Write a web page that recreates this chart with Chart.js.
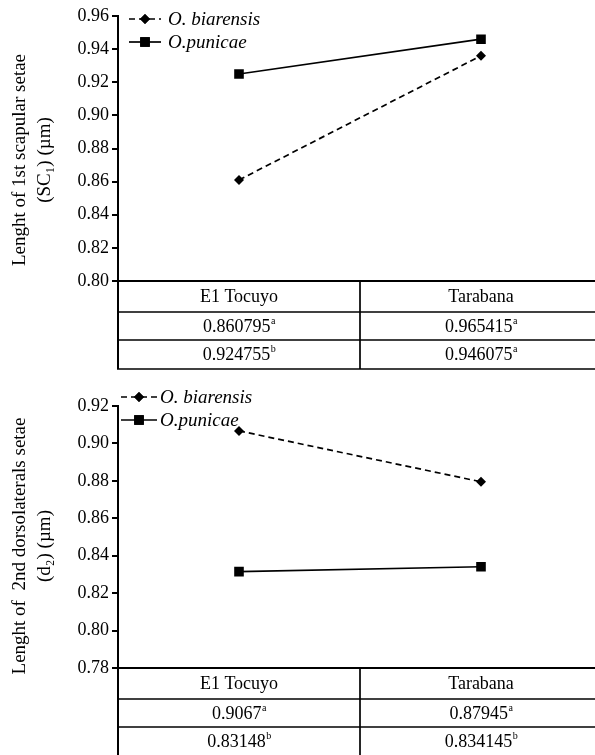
<!DOCTYPE html>
<html><head><meta charset="utf-8">
<script src="https://cdn.jsdelivr.net/npm/chart.js@4/dist/chart.umd.min.js"></script>
<style>
html,body{margin:0;padding:0;background:#fff;overflow:hidden;width:595px;height:755px;}
.wrap{position:absolute;left:0;width:610px;}
canvas{display:block;}
</style></head><body>
<div class="wrap" style="top:0;height:378px"><canvas id="c1" width="610" height="378"></canvas></div>
<div class="wrap" style="top:378px;height:377px"><canvas id="c2" width="610" height="377"></canvas></div>
<script>
// ---------- data ----------
const categories = ['E1 Tocuyo', 'Tarabana'];
const seriesNames = ['O. biarensis', 'O.punicae'];

// Chart 1: 1st scapular setae (SC1)
const sc1Title = ['Lenght of 1st scapular setae', '(SC\u2081) (\u00b5m)'];
const sc1Ticks = [0.80, 0.82, 0.84, 0.86, 0.88, 0.90, 0.92, 0.94, 0.96];
const sc1Biarensis = [0.861, 0.936];
const sc1Punicae = [0.925, 0.946];
const sc1TableBiarensis = ['0.860795', '0.965415'];
const sc1SupBiarensis = ['a', 'a'];
const sc1TablePunicae = ['0.924755', '0.946075'];
const sc1SupPunicae = ['b', 'a'];

// Chart 2: 2nd dorsolaterals setae (d2)
const d2Title = ['Lenght of  2nd dorsolaterals setae', '(d\u2082) (\u00b5m)'];
const d2Ticks = [0.78, 0.80, 0.82, 0.84, 0.86, 0.88, 0.90, 0.92];
const d2Biarensis = [0.9067, 0.8795];
const d2Punicae = [0.8315, 0.8341];
const d2TableBiarensis = ['0.9067', '0.87945'];
const d2SupBiarensis = ['a', 'a'];
const d2TablePunicae = ['0.83148', '0.834145'];
const d2SupPunicae = ['b', 'b'];

// ---------- rendering ----------
const FONT = "'Liberation Serif', 'Times New Roman', serif";

const tableLegendPlugin = {
  id: 'tableLegend',
  afterDraw(chart) {
    const o = chart.options.plugins.tableLegend;
    const ctx = chart.ctx;
    const ca = chart.chartArea;
    const xs = chart.scales.x;
    const W = chart.width;
    ctx.save();
    ctx.strokeStyle = '#000';
    ctx.fillStyle = '#000';
    // table
    const rows = o.rowHeights;
    let ys = [ca.bottom];
    rows.forEach(h => ys.push(ys[ys.length - 1] + h));
    ys.forEach((y, i) => {
      ctx.lineWidth = i === 0 ? 2 : 1.7;
      ctx.beginPath(); ctx.moveTo(ca.left - 1, y); ctx.lineTo(W, y); ctx.stroke();
    });
    const mid = (xs.getPixelForValue(0) + xs.getPixelForValue(1)) / 2;
    ctx.lineWidth = 2;
    ctx.beginPath(); ctx.moveTo(ca.left, ca.bottom); ctx.lineTo(ca.left, ys[ys.length - 1]); ctx.stroke();
    ctx.lineWidth = 1.7;
    ctx.beginPath(); ctx.moveTo(mid, ca.bottom); ctx.lineTo(mid, ys[ys.length - 1]); ctx.stroke();
    ctx.textBaseline = 'middle';
    const cells = [o.header.map(t => [t, '']), o.row1, o.row2];
    cells.forEach((row, r) => {
      const cy = (ys[r] + ys[r + 1]) / 2 + 1;
      row.forEach((cell, c) => {
        const cx = xs.getPixelForValue(c);
        ctx.font = '18px ' + FONT;
        const w1 = ctx.measureText(cell[0]).width;
        ctx.font = '10px ' + FONT;
        const w2 = cell[1] ? ctx.measureText(cell[1]).width : 0;
        const sx = cx - (w1 + w2) / 2;
        ctx.font = '18px ' + FONT;
        ctx.textAlign = 'left';
        ctx.fillText(cell[0], sx, cy);
        if (cell[1]) {
          ctx.font = '10px ' + FONT;
          ctx.fillText(cell[1], sx + w1 + 0.5, cy - 6);
        }
      });
    });
    // legend
    chart.data.datasets.forEach((ds, i) => {
      const y = o.legendY[i];
      ctx.save();
      ctx.lineWidth = 1.7;
      ctx.setLineDash(ds.borderDash || []);
      ctx.beginPath(); ctx.moveTo(o.legendX0, y); ctx.lineTo(o.legendX1, y); ctx.stroke();
      ctx.restore();
      Chart.helpers.drawPoint(ctx, { pointStyle: ds.pointStyle, radius: ds.pointRadius, rotation: 0, borderWidth: 0 },
        (o.legendX0 + o.legendX1) / 2, y);
      ctx.fill();
      ctx.font = 'italic 19px ' + FONT;
      ctx.textAlign = 'left';
      ctx.textBaseline = 'middle';
      ctx.fillText(ds.label, o.legendText, y + 1);
    });
    // y title
    ctx.font = '19px ' + FONT;
    ctx.textAlign = 'center';
    ctx.textBaseline = 'middle';
    o.title.forEach((t, i) => {
      ctx.save();
      ctx.translate(o.titleX[i], o.titleY);
      ctx.rotate(-Math.PI / 2);
      ctx.fillText(t, 0, 0);
      ctx.restore();
    });
    ctx.restore();
  }
};

function makeChart(id, cfg) {
  const ticks = cfg.ticks;
  return new Chart(document.getElementById(id), {
    type: 'line',
    data: {
      labels: categories,
      datasets: [
        { label: seriesNames[0], data: cfg.biarensis, borderColor: '#000', backgroundColor: '#000',
          borderWidth: 1.7, borderDash: [6, 4], pointStyle: 'rectRot', pointRadius: 5,
          pointBorderWidth: 0, pointBackgroundColor: '#000', tension: 0 },
        { label: seriesNames[1], data: cfg.punicae, borderColor: '#000', backgroundColor: '#000',
          borderWidth: 1.7, pointStyle: 'rect', pointRadius: 6.8,
          pointBorderWidth: 0, pointBackgroundColor: '#000', tension: 0 }
      ]
    },
    options: {
      responsive: false,
      animation: false,
      layout: { padding: { top: cfg.padTop, bottom: cfg.padBottom, left: 0, right: 8 } },
      plugins: {
        legend: { display: false },
        tooltip: { enabled: false },
        tableLegend: {
          rowHeights: [31, 28, 29],
          header: categories,
          row1: cfg.tableB.map((v, i) => [v, cfg.supB[i]]),
          row2: cfg.tableP.map((v, i) => [v, cfg.supP[i]]),
          legendY: cfg.legendY, legendX0: cfg.legendX0, legendX1: cfg.legendX1, legendText: cfg.legendText,
          title: cfg.title, titleX: [20, 45], titleY: cfg.titleY
        }
      },
      scales: {
        x: { type: 'category', display: false, offset: true },
        y: {
          min: ticks[0], max: ticks[ticks.length - 1],
          afterFit(s) { s.width = 118; },
          afterBuildTicks(s) { s.ticks = ticks.map(v => ({ value: v })); },
          border: { display: true, color: '#000', width: 2 },
          grid: { drawOnChartArea: false, drawTicks: true, tickLength: 6, color: '#000', lineWidth: 2 },
          ticks: { color: '#000', font: { family: FONT, size: 18 }, padding: 3,
                   callback: v => Number(v).toFixed(2) }
        }
      }
    },
    plugins: [tableLegendPlugin]
  });
}

makeChart('c1', {
  ticks: sc1Ticks, biarensis: sc1Biarensis, punicae: sc1Punicae,
  tableB: sc1TableBiarensis, supB: sc1SupBiarensis, tableP: sc1TablePunicae, supP: sc1SupPunicae,
  padTop: 16, padBottom: 97, legendY: [19, 42], legendX0: 129, legendX1: 161, legendText: 168,
  title: sc1Title, titleY: 160
});
makeChart('c2', {
  ticks: d2Ticks, biarensis: d2Biarensis, punicae: d2Punicae,
  tableB: d2TableBiarensis, supB: d2SupBiarensis, tableP: d2TablePunicae, supP: d2SupPunicae,
  padTop: 28, padBottom: 87, legendY: [19, 42], legendX0: 121, legendX1: 157, legendText: 160,
  title: d2Title, titleY: 168
});
</script>
</body></html>
